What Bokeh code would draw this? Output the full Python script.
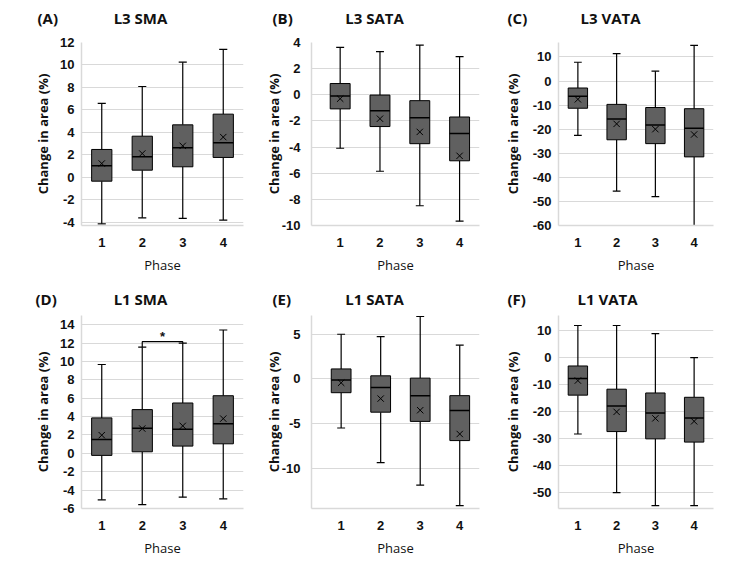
from bokeh.plotting import figure
from bokeh.models import Range1d, FixedTicker, Label
from bokeh.layouts import column, row
from bokeh.embed import file_html
from bokeh.resources import INLINE
from bokeh.core.properties import value

# ---------------- data ----------------
phases = [1, 2, 3, 4]

# (A) L3 SMA
l3_sma_low = [-4.12, -3.59, -3.64, -3.79]
l3_sma_q1 = [-0.33, 0.65, 0.95, 1.78]
l3_sma_med = [1.04, 1.84, 2.64, 3.08]
l3_sma_mean = [1.24, 2.13, 2.81, 3.59]
l3_sma_q3 = [2.49, 3.67, 4.68, 5.63]
l3_sma_high = [6.58, 8.09, 10.25, 11.38]

# (B) L3 SATA
l3_sata_low = [-4.09, -5.85, -8.49, -9.67]
l3_sata_q1 = [-1.08, -2.43, -3.74, -5.05]
l3_sata_med = [-0.10, -1.22, -1.75, -2.96]
l3_sata_mean = [-0.30, -1.83, -2.84, -4.67]
l3_sata_q3 = [0.86, -0.02, -0.45, -1.70]
l3_sata_high = [3.62, 3.30, 3.80, 2.92]

# (C) L3 VATA
l3_vata_low = [-22.6, -45.7, -48.0, -60.0]
l3_vata_q1 = [-11.3, -24.4, -26.0, -31.5]
l3_vata_med = [-6.3, -15.8, -18.3, -19.6]
l3_vata_mean = [-7.6, -17.8, -20.0, -22.2]
l3_vata_q3 = [-2.9, -9.7, -11.0, -11.5]
l3_vata_high = [7.8, 11.4, 4.1, 14.8]

# (D) L1 SMA
l1_sma_low = [-5.06, -5.57, -4.77, -4.95]
l1_sma_q1 = [-0.22, 0.17, 0.79, 1.04]
l1_sma_med = [1.51, 2.74, 2.63, 3.21]
l1_sma_mean = [1.98, 2.70, 2.99, 3.78]
l1_sma_q3 = [3.86, 4.76, 5.48, 6.27]
l1_sma_high = [9.67, 11.55, 12.0, 13.42]
l1_sma_sig_pair = [2, 3]
l1_sma_sig_level = 12.15
l1_sma_sig_mark = "*"

# (E) L1 SATA
l1_sata_low = [-5.49, -9.37, -11.88, -14.17]
l1_sata_q1 = [-1.54, -3.72, -4.75, -6.90]
l1_sata_med = [-0.13, -0.95, -1.87, -3.53]
l1_sata_mean = [-0.43, -2.20, -3.50, -6.16]
l1_sata_q3 = [1.12, 0.35, 0.09, -1.87]
l1_sata_high = [5.0, 4.74, 6.99, 3.78]

# (F) L1 VATA
l1_vata_low = [-28.4, -50.1, -54.9, -54.9]
l1_vata_q1 = [-14.0, -27.5, -30.2, -31.4]
l1_vata_med = [-7.8, -18.0, -20.6, -22.5]
l1_vata_mean = [-8.6, -20.2, -22.6, -23.7]
l1_vata_q3 = [-3.2, -11.8, -13.2, -14.8]
l1_vata_high = [11.8, 11.8, 8.8, -0.1]

ticks_a = [-4, -2, 0, 2, 4, 6, 8, 10, 12]
ticks_b = [-10, -8, -6, -4, -2, 0, 2, 4]
ticks_c = [-60, -50, -40, -30, -20, -10, 0, 10]
ticks_d = [-6, -4, -2, 0, 2, 4, 6, 8, 10, 12, 14]
ticks_e = [-10, -5, 0, 5]
ticks_f = [-50, -40, -30, -20, -10, 0, 10]

letters = ["(A)", "(B)", "(C)", "(D)", "(E)", "(F)"]
names = ["L3 SMA", "L3 SATA", "L3 VATA", "L1 SMA", "L1 SATA", "L1 VATA"]
x_title = "Phase"
y_title = "Change in area (%)"

# ---------------- style ----------------
GRID = "#d9d9d9"
BOX = "#606060"
TXT = "#111111"
TICK_FONT = "Liberation Sans"
LABEL_FONT = "Open Sans"
TITLE_H = 28


def title_fig(letter, name, letter_x, name_x, cy):
    t = figure(width=250, height=TITLE_H, output_backend="svg", toolbar_location=None,
               x_range=Range1d(0, 250), y_range=Range1d(0, TITLE_H),
               x_axis_type=None, y_axis_type=None, min_border=0)
    t.outline_line_color = None
    t.grid.visible = False
    t.text(x=[letter_x], y=[TITLE_H - cy], text=[letter], text_font=value(LABEL_FONT),
           text_font_size="15px", text_font_style="bold", text_color=TXT,
           text_align="left", text_baseline="middle")
    t.text(x=[name_x], y=[TITLE_H - cy], text=[name], text_font=value(LABEL_FONT),
           text_font_size="15px", text_font_style="bold", text_color=TXT,
           text_align="center", text_baseline="middle")
    return t


def panel(low, q1, med, mean, q3, high, xr, yr, ticks, geom, h, ytick_standoff,
          ylab_standoff):
    left, right, top, bottom = geom
    p = figure(width=250, height=h, output_backend="svg", toolbar_location=None,
               x_range=Range1d(*xr), y_range=Range1d(*yr),
               min_border_left=left, min_border_right=right,
               min_border_top=top, min_border_bottom=bottom)
    p.outline_line_color = None
    p.background_fill_color = "white"
    p.border_fill_color = "white"
    p.xgrid.visible = False
    p.ygrid.ticker = FixedTicker(ticks=ticks)
    p.ygrid.grid_line_color = GRID
    p.ygrid.grid_line_width = 1.2
    for ax in (p.xaxis[0], p.yaxis[0]):
        ax.axis_line_color = GRID
        ax.axis_line_width = 1.5
        ax.major_tick_line_color = None
        ax.minor_tick_line_color = None
        ax.major_tick_out = 0
        ax.major_tick_in = 0
        ax.minor_tick_out = 0
        ax.minor_tick_in = 0
        ax.major_label_text_font = TICK_FONT
        ax.major_label_text_font_style = "bold"
        ax.major_label_text_font_size = "13px"
        ax.major_label_text_color = TXT
        ax.axis_label_text_color = TXT
        ax.axis_label_text_font = LABEL_FONT
    p.xaxis.ticker = FixedTicker(ticks=phases)
    p.yaxis.ticker = FixedTicker(ticks=ticks)
    p.yaxis.major_label_overrides = {t: str(t) for t in ticks}
    p.yaxis.major_label_standoff = ytick_standoff
    p.xaxis.major_label_standoff = 12
    p.xaxis.axis_label = x_title
    p.xaxis.axis_label_text_font_size = "13px"
    p.xaxis.axis_label_text_font_style = "normal"
    p.xaxis.axis_label_standoff = 6
    p.yaxis.axis_label = y_title
    p.yaxis.axis_label_text_font_size = "13px"
    p.yaxis.axis_label_text_font_style = "bold"
    p.yaxis.axis_label_standoff = ylab_standoff

    hw = 0.25  # half box width
    cw = 0.1   # half cap width
    p.segment(phases, q3, phases, high, line_color="black", line_width=1.2)
    p.segment(phases, q1, phases, low, line_color="black", line_width=1.2)
    p.segment([x - cw for x in phases], high, [x + cw for x in phases], high,
              line_color="black", line_width=1.2)
    p.segment([x - cw for x in phases], low, [x + cw for x in phases], low,
              line_color="black", line_width=1.2)
    p.vbar(x=phases, width=2 * hw, bottom=q1, top=q3, fill_color=BOX,
           line_color="black", line_width=1)
    p.segment([x - hw for x in phases], med, [x + hw for x in phases], med,
              line_color="black", line_width=1.5)
    p.scatter(phases, mean, marker="x", size=9, line_color="black", line_width=1)
    return p


ta = title_fig(letters[0], names[0], 37, 140, 17)
tb = title_fig(letters[1], names[1], 22, 124, 17)
tc = title_fig(letters[2], names[2], 7, 110, 17)
td = title_fig(letters[3], names[3], 35, 140, 18)
te = title_fig(letters[4], names[4], 22, 124, 18)
tf = title_fig(letters[5], names[5], 7, 107, 18)

pa = panel(l3_sma_low, l3_sma_q1, l3_sma_med, l3_sma_mean, l3_sma_q3, l3_sma_high,
           (0.5, 4.5), (-4.27, 12), ticks_a, (81, 7, 14, 55), 252, 7, 5)
pb = panel(l3_sata_low, l3_sata_q1, l3_sata_med, l3_sata_mean, l3_sata_q3, l3_sata_high,
           (0.28, 4.5), (-10, 4), ticks_b, (61, 21, 13, 54), 252, 11, -4)
pc = panel(l3_vata_low, l3_vata_q1, l3_vata_med, l3_vata_mean, l3_vata_q3, l3_vata_high,
           (0.5, 4.5), (-60, 16), ticks_c, (56, 37, 5, 53), 252, 7, 8)
pd = panel(l1_sma_low, l1_sma_q1, l1_sma_med, l1_sma_mean, l1_sma_q3, l1_sma_high,
           (0.5, 4.5), (-6, 15), ticks_d, (81, 7, 7, 54), 255, 7, 5)
pe = panel(l1_sata_low, l1_sata_q1, l1_sata_med, l1_sata_mean, l1_sata_q3, l1_sata_high,
           (0.25, 4.5), (-14.5, 7.1), ticks_e, (61, 21, 5, 55), 255, 11, -4)
pf = panel(l1_vata_low, l1_vata_q1, l1_vata_med, l1_vata_mean, l1_vata_q3, l1_vata_high,
           (0.5, 4.5), (-56, 15.5), ticks_f, (56, 37, 5, 55), 255, 7, 8)

# significance bracket between phases 2 and 3 in (D)
x0, x1 = l1_sma_sig_pair
pd.line([x0, x0, x1, x1],
        [l1_sma_high[x0 - 1], l1_sma_sig_level, l1_sma_sig_level, l1_sma_high[x1 - 1]],
        line_color="black", line_width=1.2)
pd.add_layout(Label(x=(x0 + x1) / 2, y=l1_sma_sig_level, y_offset=-2, text=l1_sma_sig_mark,
                    text_font=TICK_FONT, text_font_size="13px", text_font_style="bold",
                    text_color=TXT, text_align="center", text_baseline="bottom"))

layout = column(row(ta, tb, tc), row(pa, pb, pc), row(td, te, tf), row(pd, pe, pf))

open("out.html", "w").write(file_html(layout, INLINE))
